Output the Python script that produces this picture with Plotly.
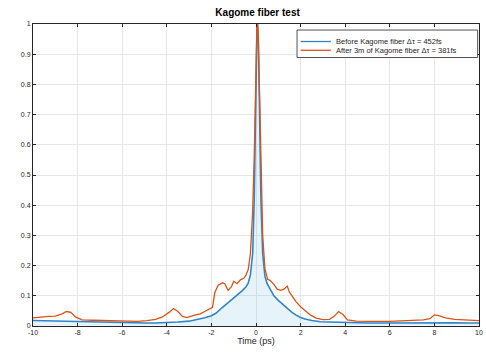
import plotly.graph_objects as go

# Time axis (ps) and normalized intensity values
t_before = [-10, -9.5, -9, -8.5, -8, -7.5, -7, -6.5, -6, -5.5, -5, -4.5, -4, -3.5, -3, -2.6, -2.3, -2.0, -1.8,
            -1.5, -1.2, -1.0, -0.8, -0.6, -0.45, -0.35, -0.25, -0.15, -0.08, 0.0, 0.04, 0.07, 0.1, 0.15, 0.22,
            0.3, 0.4, 0.5, 0.65, 0.8, 1.0, 1.2, 1.4, 1.6, 1.8, 2.0, 2.2, 2.5, 2.9, 3.3, 3.7, 4.2, 5, 6, 7, 7.5, 8,
            8.5, 9, 9.5, 10]
y_before = [0.018, 0.017, 0.017, 0.016, 0.015, 0.014, 0.013, 0.012, 0.011, 0.010, 0.010, 0.010, 0.011, 0.013,
            0.016, 0.022, 0.027, 0.034, 0.042, 0.062, 0.080, 0.092, 0.103, 0.118, 0.130, 0.142, 0.170, 0.240,
            0.420, 0.860, 0.980, 1.000, 0.960, 0.760, 0.420, 0.240, 0.165, 0.140, 0.118, 0.100, 0.085, 0.072,
            0.058, 0.046, 0.036, 0.028, 0.023, 0.018, 0.014, 0.013, 0.012, 0.011, 0.010, 0.010, 0.011, 0.011,
            0.012, 0.012, 0.011, 0.010, 0.010]

t_after = [-10, -9.7, -9.3, -9.0, -8.7, -8.5, -8.3, -8.1, -7.8, -7.3, -6.8, -6.3, -5.8, -5.3, -4.9, -4.5, -4.2,
           -3.9, -3.7, -3.5, -3.3, -3.1, -2.8, -2.5, -2.3, -2.1, -1.95, -1.85, -1.7, -1.5, -1.4, -1.25, -1.1,
           -1.0, -0.85, -0.7, -0.55, -0.45, -0.35, -0.25, -0.15, -0.08, 0.0, 0.04, 0.07, 0.1, 0.15, 0.22, 0.3,
           0.4, 0.52, 0.65, 0.8, 0.95, 1.1, 1.25, 1.4, 1.5, 1.65, 1.8, 2.0, 2.2, 2.45, 2.7, 3.0, 3.3, 3.5, 3.7,
           3.9, 4.1, 4.5, 5.0, 5.5, 6.0, 6.5, 7.0, 7.5, 7.8, 8.0, 8.2, 8.5, 8.9, 9.3, 9.7, 10]
y_after = [0.027, 0.030, 0.032, 0.033, 0.040, 0.048, 0.045, 0.030, 0.020, 0.019, 0.018, 0.017, 0.015, 0.015,
           0.018, 0.022, 0.030, 0.045, 0.058, 0.048, 0.032, 0.028, 0.035, 0.040, 0.048, 0.056, 0.062, 0.110,
           0.135, 0.143, 0.140, 0.118, 0.130, 0.148, 0.140, 0.153, 0.158, 0.168, 0.187, 0.240, 0.380, 0.560,
           0.900, 0.990, 1.000, 0.970, 0.800, 0.520, 0.300, 0.190, 0.155, 0.150, 0.138, 0.122, 0.118, 0.122,
           0.132, 0.112, 0.095, 0.080, 0.064, 0.052, 0.036, 0.026, 0.021, 0.022, 0.032, 0.048, 0.038, 0.020,
           0.016, 0.015, 0.014, 0.015, 0.017, 0.019, 0.020, 0.024, 0.037, 0.034, 0.027, 0.022, 0.020, 0.019,
           0.018]

x_ticks = [-10, -8, -6, -4, -2, 0, 2, 4, 6, 8, 10]
y_ticks = [0, 0.1, 0.2, 0.3, 0.4, 0.5, 0.6, 0.7, 0.8, 0.9, 1]
y_tick_text = ["0", "0.1", "0.2", "0.3", "0.4", "0.5", "0.6", "0.7", "0.8", "0.9", "1"]

names = ["Before Kagome fiber Δτ = 452fs", "After 3m of Kagome fiber Δτ = 381fs"]
colors = ["#2E86C9", "#D95319"]

FONT = "Liberation Sans, Arial"

fig = go.Figure()
fig.add_trace(go.Scatter(x=t_before, y=y_before, mode="lines", name=names[0],
                         line=dict(color=colors[0], width=1.6),
                         fill="tozeroy", fillcolor="rgba(120,190,235,0.18)", showlegend=False))
fig.add_trace(go.Scatter(x=t_after, y=y_after, mode="lines", name=names[1],
                         line=dict(color=colors[1], width=1.3), showlegend=False))

axis_common = dict(showline=True, linecolor="#262626", linewidth=1, mirror="ticks",
                   ticks="inside", ticklen=3, tickcolor="#262626",
                   showgrid=True, gridcolor="#E6E6E6", gridwidth=1, zeroline=False,
                   tickfont=dict(family=FONT, size=7, color="#262626"))

fig.update_xaxes(range=[-10, 10], tickvals=x_ticks, ticktext=[str(v) for v in x_ticks],
                 ticklabeloverflow="allow",
                 title=dict(text="Time (ps)", font=dict(family=FONT, size=9, color="#262626"),
                            standoff=2),
                 **axis_common)
fig.update_yaxes(range=[0, 1], tickvals=y_ticks, ticktext=y_tick_text, **axis_common)

# Compact MATLAB-style legend drawn in paper coordinates
shapes = [dict(type="rect", xref="paper", yref="paper", x0=0.592, x1=0.997, y0=0.889, y1=0.980,
               line=dict(color="#262626", width=0.8), fillcolor="white", layer="above")]
annotations = []
leg_y = [0.942, 0.913]
for name, col, yy in zip(names, colors, leg_y):
    shapes.append(dict(type="line", xref="paper", yref="paper", x0=0.600, x1=0.668, y0=yy, y1=yy,
                       line=dict(color=col, width=1.3), layer="above"))
    annotations.append(dict(xref="paper", yref="paper", x=0.675, y=yy, xanchor="left", yanchor="middle",
                            text=name, showarrow=False,
                            font=dict(family=FONT, size=7.5, color="#262626")))

fig.update_layout(
    width=486, height=356,
    margin=dict(l=33, r=3, t=24, b=30),
    paper_bgcolor="white", plot_bgcolor="white",
    title=dict(text="<b>Kagome fiber test</b>", x=0.53, xanchor="center", y=0.975, yanchor="top",
               font=dict(family=FONT, size=10, color="black")),
    shapes=shapes, annotations=annotations,
    showlegend=False,
)

fig.write_html("out.html")
